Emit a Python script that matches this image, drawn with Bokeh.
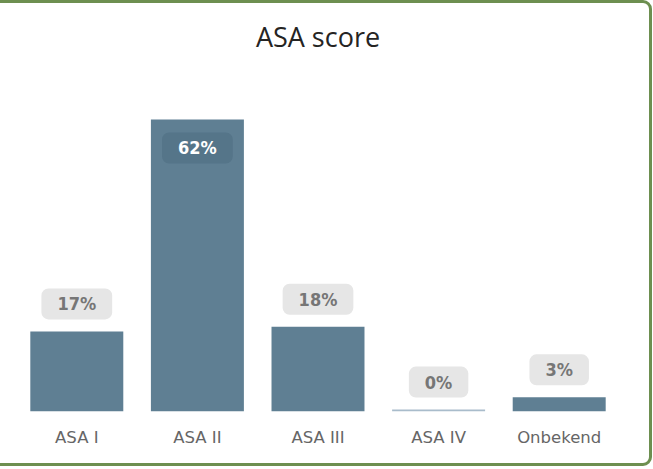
from bokeh.plotting import figure
from bokeh.models import ColumnDataSource, FactorRange, Range1d, InlineStyleSheet
from bokeh.core.properties import value
from bokeh.embed import file_html
from bokeh.resources import INLINE

title_text = "ASA score"
categories = ["ASA I", "ASA II", "ASA III", "ASA IV", "Onbekend"]
percentages = [17, 62, 18, 0.4, 3]
labels = ["17%", "62%", "18%", "0%", "3%"]

Y_END = 83  # top of the value axis (frame extends up to hold the title)

BAR = "#5f7f93"
BAR_LIGHT = "#a9bccb"
colors = [BAR if v >= 1 else BAR_LIGHT for v in percentages]

src = ColumnDataSource(dict(cat=categories, val=percentages, color=colors))

inside = [i for i, v in enumerate(percentages) if v >= 40]
outside = [i for i, v in enumerate(percentages) if v < 40]
src_in = ColumnDataSource(dict(cat=[categories[i] for i in inside],
                               val=[percentages[i] for i in inside],
                               lab=[labels[i] for i in inside]))
src_out = ColumnDataSource(dict(cat=[categories[i] for i in outside],
                                val=[percentages[i] for i in outside],
                                lab=[labels[i] for i in outside]))

p = figure(x_range=FactorRange(factors=categories, range_padding=0),
           y_range=Range1d(0, Y_END),
           width=672, height=466,
           output_backend="svg", toolbar_location=None,
           y_axis_location=None,
           min_border_left=36, min_border_right=33,
           min_border_top=20, min_border_bottom=55)

p.styles = {"position": "absolute", "left": "-20px", "top": "0px"}
p.stylesheets = [InlineStyleSheet(css="""
:host::after {
  content: "";
  position: absolute;
  left: 0px; top: 0px;
  width: 672px; height: 466px;
  box-sizing: border-box;
  border: 3px solid #6d8f50;
  border-radius: 9px;
  pointer-events: none;
  z-index: 1000;
}
""")]

# chart title, centred over the category axis at the top of the value range
p.text(x=[len(categories) / 2], y=[Y_END], text=[title_text],
       text_align="center", text_baseline="middle", y_offset=16,
       text_font=value("Open Sans"), text_font_size="27px",
       text_color="#252423")

p.vbar(x="cat", top="val", width=0.771, source=src, fill_color="color",
       line_color=None)

LABEL_FONT = value("'DejaVu Sans Condensed', 'DejaVu Sans'")

p.text(x="cat", y="val", text="lab", source=src_out,
       text_align="center", text_baseline="bottom", y_offset=-12,
       text_font=LABEL_FONT, text_font_size="18px", text_font_style="bold",
       text_color="#767676", background_fill_color="#e6e6e6",
       padding=dict(left=16, right=16, top=5, bottom=5), border_radius=7)

p.text(x="cat", y="val", text="lab", source=src_in,
       text_align="center", text_baseline="top", y_offset=13,
       text_font=LABEL_FONT, text_font_size="18px", text_font_style="bold",
       text_color="#ffffff", background_fill_color="#557589",
       padding=dict(left=16, right=16, top=5, bottom=5), border_radius=7)

p.xgrid.visible = False
p.ygrid.visible = False
p.outline_line_color = None
p.xaxis.axis_line_color = None
p.xaxis.major_tick_line_color = None
p.xaxis.minor_tick_line_color = None
p.xaxis.major_label_standoff = 10
p.xaxis.major_label_text_font = "DejaVu Sans"
p.xaxis.major_label_text_font_size = "16.5px"
p.xaxis.major_label_text_color = "#666666"

open("out.html", "w").write(file_html(p, INLINE))
